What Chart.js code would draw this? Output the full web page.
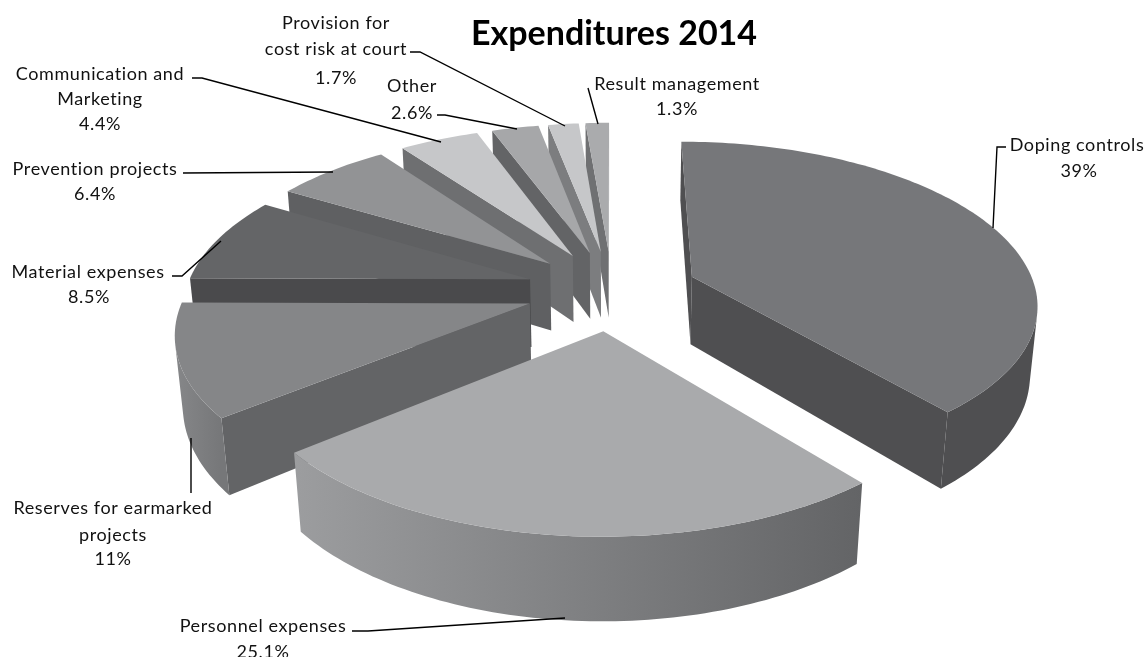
<!DOCTYPE html>
<html>
<head>
<meta charset="utf-8">
<title>Expenditures 2014</title>
<script src="https://cdn.jsdelivr.net/npm/chart.js@4"></script>
<style>
  html, body { margin: 0; padding: 0; background: #fff; overflow: hidden; }
  #wrap { width: 1148px; height: 657px; }
</style>
</head>
<body>
<div id="wrap"><canvas id="myChart" width="1148" height="657"></canvas></div>
<script>
var categories = ['Doping controls', 'Personnel expenses', 'Reserves for earmarked projects', 'Material expenses',
    'Prevention projects', 'Communication and Marketing', 'Other', 'Provision for cost risk at court', 'Result management'];
var shares = [39, 25.1, 11, 8.5, 6.4, 4.4, 2.6, 1.7, 1.3];
var explode = [25, 25, 25, 25, 25, 25, 25, 25, 25];

var topColors = ['#76777a', '#a9aaac', '#858688', '#646567', '#929395', '#c6c7c9', '#a6a7a9', '#c6c7c9', '#aaabad'];
var faceColors = ['#4f4f51', '#636466', '#636466', '#4a4a4c', '#5f6062', '#6e6f71', '#636466', '#7c7d7f', '#6f7072'];
// left and right colour of the curved wall
var rimLeft = ['#4f4f51', '#9c9d9f', '#868789', '#5a5b5d', '#707173', '#8a8b8d', '#808183', '#8a8b8d', '#808183'];
var rimRight = ['#4f4f51', '#636466', '#767779', '#5a5b5d', '#707173', '#8a8b8d', '#808183', '#8a8b8d', '#808183'];

// label lines, each one [text, centre x, middle y]
var labelLines = [
    ['Doping controls', 1077, 145], ['39%', 1079, 171],
    ['Personnel expenses', 263, 626], ['25.1%', 263, 652],
    ['Reserves for earmarked', 113, 508], ['projects', 113, 535], ['11%', 113, 559],
    ['Material expenses', 88, 272], ['8.5%', 89, 297],
    ['Prevention projects', 95, 169], ['6.4%', 95, 194],
    ['Communication and', 100, 74], ['Marketing', 100, 99], ['4.4%', 100, 124],
    ['Other', 412, 86], ['2.6%', 412, 113],
    ['Provision for', 336, 23], ['cost risk at court', 336, 49], ['1.7%', 336, 78],
    ['Result management', 677, 84], ['1.3%', 677, 109]
];
var leaders = [
    [[1006, 147], [997, 147], [993, 228]],
    [[352, 631], [368, 631], [565, 618]],
    [[191, 438], [191, 493]],
    [[172, 276], [182, 276], [221, 241]],
    [[183, 173], [333, 172]],
    [[192, 78], [202, 78], [441, 142]],
    [[437, 115], [445, 115], [517, 129]],
    [[410, 52], [420, 52], [565, 126]],
    [[588, 88], [598, 124]]
];

// viewing setup of the tilted disc
var view = { cx: 612, horizonY: -746, depth: 1036, p: 0.154, a: 344, drop: 1.066, plumbY: 4200 };

function project(u, v) {
    var w = 1 - view.p * v;
    return { x: view.cx + view.a * u / w, y: view.horizonY + view.depth / w };
}

function lower(pt) {
    var y = view.horizonY + (pt.y - view.horizonY) * view.drop;
    return { x: view.cx + (pt.x - view.cx) * (view.plumbY - y) / (view.plumbY - pt.y), y: y };
}

function fillPoly(ctx, pts, fill) {
    ctx.beginPath();
    pts.forEach(function (p, n) {
        if (n === 0) ctx.moveTo(p.x, p.y); else ctx.lineTo(p.x, p.y);
    });
    ctx.closePath();
    ctx.fillStyle = fill;
    ctx.fill();
}

// true when the wall a-b-c-d turns towards the viewer
function facing(a, b, c, d) {
    var pts = [a, b, c, d], s = 0;
    for (var i = 0; i < 4; i++) {
        var n = pts[(i + 1) % 4];
        s += pts[i].x * n.y - n.x * pts[i].y;
    }
    return s < 0;
}

function drawSlice(ctx, arc, i) {
    var e = arc.options.offset / 100;
    var mid = (arc.startAngle + arc.endAngle) / 2;
    var u0 = Math.cos(mid) * e;
    var v0 = Math.sin(mid) * e;
    var apex = project(u0, v0);
    var rim = [];
    var steps = Math.max(2, Math.ceil((arc.endAngle - arc.startAngle) / 0.02));
    for (var s = 0; s <= steps; s++) {
        var ang = arc.startAngle + (arc.endAngle - arc.startAngle) * s / steps;
        rim.push(project(u0 + Math.cos(ang), v0 + Math.sin(ang)));
    }
    var apexLow = lower(apex);
    var first = rim[0], last = rim[steps];

    // flat cut faces
    if (facing(last, apex, apexLow, lower(last))) {
        fillPoly(ctx, [last, apex, apexLow, lower(last)], faceColors[i]);
    }
    if (facing(apex, first, lower(first), apexLow)) {
        fillPoly(ctx, [apex, first, lower(first), apexLow], faceColors[i]);
    }

    // curved wall, shaded left to right
    var xs = rim.map(function (p) { return p.x; });
    var grad = ctx.createLinearGradient(Math.min.apply(null, xs), 0, Math.max.apply(null, xs), 0);
    grad.addColorStop(0, rimLeft[i]);
    grad.addColorStop(1, rimRight[i]);
    var upper = [];
    for (var k = 0; k < steps; k++) {
        if (facing(rim[k], rim[k + 1], lower(rim[k + 1]), lower(rim[k]))) {
            if (upper.length === 0) upper.push(rim[k]);
            upper.push(rim[k + 1]);
        }
    }
    if (upper.length > 1) {
        fillPoly(ctx, upper.concat(upper.map(lower).reverse()), grad);
    }

    // top surface
    fillPoly(ctx, [apex].concat(rim), arc.options.backgroundColor);
}

var pie3d = {
    id: 'pie3d',
    beforeDatasetsDraw: function (chart) {
        var ctx = chart.ctx;
        var arcs = chart.getDatasetMeta(0).data;
        // far slices first, near slices last
        var order = arcs.map(function (arc, i) { return i; }).sort(function (p, q) {
            var mp = Math.sin((arcs[p].startAngle + arcs[p].endAngle) / 2);
            var mq = Math.sin((arcs[q].startAngle + arcs[q].endAngle) / 2);
            return mp - mq;
        });
        ctx.save();
        order.forEach(function (i) { drawSlice(ctx, arcs[i], i); });
        ctx.restore();
        return false;
    },
    afterDraw: function (chart) {
        var ctx = chart.ctx;
        ctx.save();
        ctx.strokeStyle = '#000';
        ctx.lineWidth = 1.4;
        leaders.forEach(function (line) {
            ctx.beginPath();
            line.forEach(function (p, n) {
                if (n === 0) ctx.moveTo(p[0], p[1]); else ctx.lineTo(p[0], p[1]);
            });
            ctx.stroke();
        });
        ctx.fillStyle = '#111';
        ctx.font = '18px Lato, sans-serif';
        ctx.letterSpacing = '0.6px';
        ctx.textAlign = 'center';
        ctx.textBaseline = 'middle';
        labelLines.forEach(function (l) { ctx.fillText(l[0], l[1], l[2]); });
        ctx.restore();
    }
};

var ctx = document.getElementById('myChart');
var myChart = new Chart(ctx, {
    type: 'pie',
    data: {
        labels: categories,
        datasets: [{
            data: shares,
            backgroundColor: topColors,
            offset: explode,
            borderWidth: 0
        }]
    },
    options: {
        responsive: false,
        animation: false,
        layout: { padding: { left: 80 } },
        plugins: {
            legend: { display: false },
            tooltip: { enabled: false },
            title: {
                display: true,
                text: 'Expenditures 2014',
                color: '#000',
                font: { family: 'Lato, sans-serif', size: 34, weight: 'bold' },
                padding: { top: 14, bottom: 10 }
            }
        }
    },
    plugins: [pie3d]
});
</script>
</body>
</html>
